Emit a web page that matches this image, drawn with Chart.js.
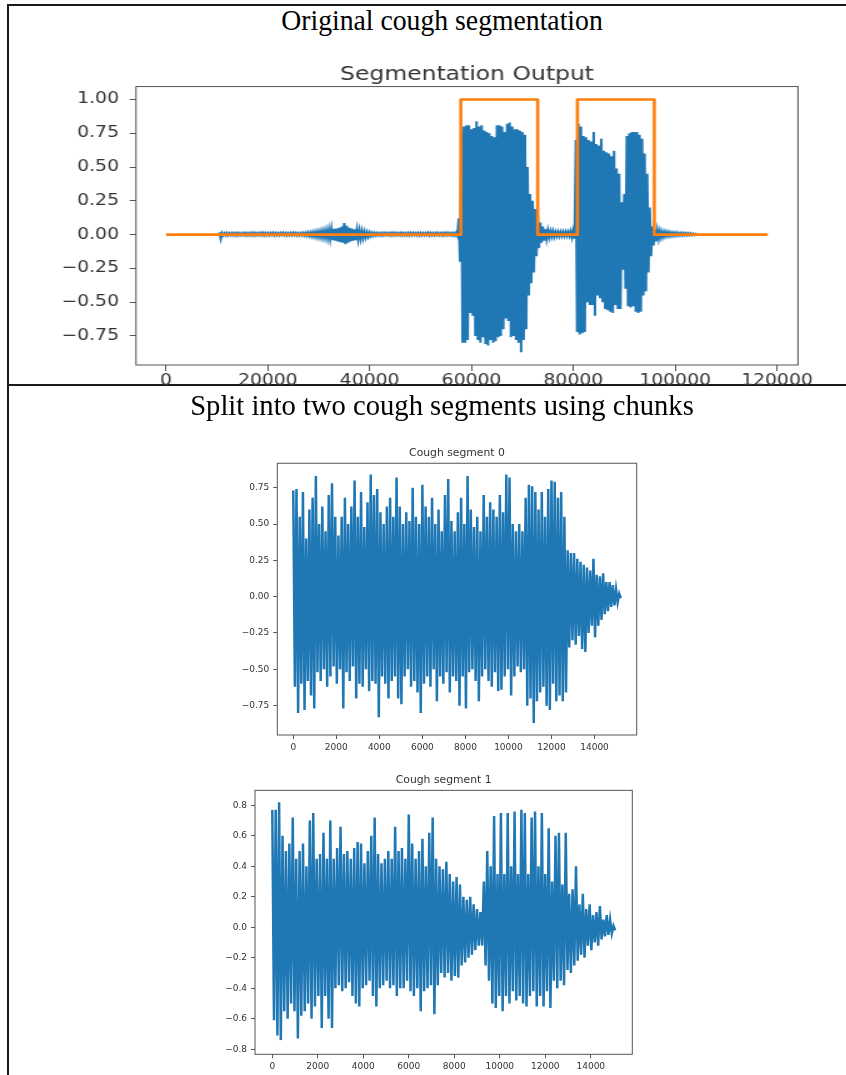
<!DOCTYPE html>
<html>
<head>
<meta charset="utf-8">
<script src="https://cdn.jsdelivr.net/npm/chart.js@4.4.0/dist/chart.umd.min.js"></script>
<style>
html,body{margin:0;padding:0;background:#fff;width:846px;height:1075px;overflow:hidden;}
#frame{position:absolute;left:7px;top:4px;width:860px;height:1100px;border-left:2px solid #1a1a1a;border-top:2px solid #1a1a1a;}
#divider{position:absolute;left:7px;top:384px;width:845px;height:2px;background:#1a1a1a;}
.ptitle{position:absolute;left:42px;width:800px;text-align:center;font-family:'Liberation Serif',serif;font-size:29px;line-height:29px;color:#000;white-space:nowrap;z-index:5;transform-origin:50% 50%;}
.wrap{position:absolute;}
#topWrap{left:0;top:52px;transform:scaleX(1.25);transform-origin:0 0;}
#seg0Wrap{left:220px;top:436px;}
#seg1Wrap{left:200px;top:762px;}
</style>
</head>
<body>
<div id="frame"></div>
<div id="divider"></div>
<div class="ptitle" style="top:6px;transform:scaleX(0.955)">Original cough segmentation</div>
<div class="ptitle" style="top:391px;transform:scaleX(0.986)">Split into two cough segments using chunks</div>
<div class="wrap" id="topWrap"><canvas id="topChart" width="672" height="345"></canvas></div>
<div class="wrap" id="seg0Wrap"><canvas id="seg0Chart" width="440" height="319"></canvas></div>
<div class="wrap" id="seg1Wrap"><canvas id="seg1Chart" width="450" height="313"></canvas></div>
<script>
// ---------------- DATA ----------------
// Top chart: audio envelope (upper / lower extremes), sampled every 500 samples
const topStep = 500;
const quietStart = 10500;
const quietUpper = [
 0.017,0.012,0.011,0.012,0.010,0.012,0.011,0.012,0.010,0.011,
 0.012,0.011,0.012,0.013,0.012,0.011,0.012,0.013,0.012,0.011,
 0.012,0.013,0.012,0.011,0.012,0.013,0.012,0.011,0.012,0.013,
 0.012,0.011,0.012,0.012,
 0.014,0.015,0.016,0.018,0.020,0.022,0.024,0.027,0.030,0.035,
 0.040,0.042,0.045,0.050,0.060,0.085,0.065,0.050,0.045,0.040,
 0.035,0.030,0.025,0.020,0.017,0.015,0.013,0.012,
 0.012,0.011,0.012,0.012,0.011,0.012,0.013,0.012,0.011,0.012,
 0.012,0.011,0.012,0.013,0.012,0.011,0.012,0.012,0.011,0.012,
 0.013,0.012,0.011,0.012,0.012,0.011,0.012,0.013,0.012,0.011,
 0.012,0.014
];
const quietLower = [
 -0.030,-0.005,-0.006,-0.005,-0.004,-0.005,-0.006,-0.005,-0.005,-0.004,
 -0.006,-0.005,-0.005,-0.006,-0.005,-0.004,-0.005,-0.006,-0.005,-0.005,
 -0.004,-0.006,-0.005,-0.005,-0.004,-0.005,-0.006,-0.005,-0.005,-0.004,
 -0.006,-0.005,-0.006,-0.007,
 -0.008,-0.010,-0.012,-0.014,-0.016,-0.018,-0.020,-0.022,-0.025,-0.030,
 -0.040,-0.045,-0.050,-0.055,-0.060,-0.070,-0.060,-0.050,-0.045,-0.040,
 -0.035,-0.030,-0.025,-0.020,-0.015,-0.010,-0.008,-0.006,
 -0.005,-0.006,-0.005,-0.004,-0.005,-0.006,-0.005,-0.005,-0.004,-0.006,
 -0.005,-0.005,-0.006,-0.005,-0.004,-0.005,-0.006,-0.005,-0.005,-0.004,
 -0.006,-0.005,-0.005,-0.004,-0.005,-0.006,-0.005,-0.005,-0.004,-0.006,
 -0.006,-0.008
];
const coughStart = 57500;
const coughUpper = [
 0.12,0.76,0.80,0.81,0.81,0.78,0.79,0.84,0.80,0.81,
 0.77,0.76,0.75,0.73,0.72,0.81,0.81,0.80,0.76,0.82,
 0.83,0.80,0.78,0.78,0.77,0.76,0.74,0.50,0.30,0.25,
 0.19,0.14,0.09,0.06,0.04,0.03,0.025,0.025,0.02,0.02,
 0.02,0.02,0.02,0.02,0.025,0.03,0.70,
 0.82,0.80,0.73,0.72,0.70,0.69,0.76,0.67,0.66,0.71,
 0.62,0.61,0.60,0.58,0.62,0.49,0.45,0.24,0.30,0.73,
 0.75,0.76,0.76,0.76,0.74,0.71,0.60,0.45,0.20,0.06,
 0.04,0.03,0.025,0.02,0.02,
 0.018,0.016,0.015,0.014,0.013,0.012,0.012,0.011,0.010,0.010,0.008,0.006
];
const coughLower = [
 -0.20,-0.80,-0.80,-0.78,-0.58,-0.60,-0.75,-0.78,-0.80,-0.76,
 -0.81,-0.82,-0.78,-0.80,-0.79,-0.76,-0.75,-0.70,-0.62,-0.64,
 -0.76,-0.75,-0.78,-0.80,-0.87,-0.78,-0.70,-0.45,-0.36,-0.28,
 -0.16,-0.10,-0.06,-0.045,-0.03,-0.02,-0.015,-0.015,-0.012,-0.012,
 -0.01,-0.01,-0.01,-0.01,-0.02,-0.03,-0.72,
 -0.74,-0.73,-0.72,-0.50,-0.52,-0.52,-0.60,-0.45,-0.47,-0.50,
 -0.55,-0.56,-0.57,-0.58,-0.52,-0.55,-0.55,-0.26,-0.40,-0.53,
 -0.54,-0.53,-0.57,-0.58,-0.57,-0.45,-0.42,-0.28,-0.16,-0.08,
 -0.05,-0.03,-0.02,-0.015,-0.01,
 -0.010,-0.008,-0.008,-0.007,-0.006,-0.006,-0.005,-0.005,-0.004,-0.004,-0.003,-0.003
];
// Segmentation mask (orange step line): edges and level after each edge
const maskX = [0, 57900, 73000, 80800, 95900, 118200];
const maskY = [0, 1, 0, 1, 0, 0];

const topXTicks = [0, 20000, 40000, 60000, 80000, 100000, 120000];
const topXLabels = ['0','20000','40000','60000','80000','100000','120000'];
const topYTicks = [-0.75, -0.5, -0.25, 0, 0.25, 0.5, 0.75, 1.0];
const topYLabels = ['\u22120.75','\u22120.50','\u22120.25','0.00','0.25','0.50','0.75','1.00'];

// Cough segment 0 envelope, every 150 samples
const segStep = 150;
const seg0Upper = [
 0.73,0.74,0.55,0.72,0.40,0.60,0.68,0.83,0.50,0.62,
 0.45,0.70,0.78,0.55,0.42,0.55,0.68,0.50,0.62,0.80,
 0.55,0.72,0.48,0.65,0.84,0.70,0.74,0.58,0.50,0.62,
 0.68,0.55,0.82,0.62,0.50,0.58,0.52,0.75,0.55,0.50,
 0.77,0.62,0.55,0.68,0.50,0.60,0.45,0.70,0.81,0.52,
 0.45,0.58,0.68,0.50,0.83,0.60,0.48,0.55,0.45,0.70,
 0.55,0.65,0.60,0.55,0.70,0.58,0.84,0.82,0.50,0.45,
 0.50,0.45,0.68,0.77,0.76,0.72,0.60,0.72,0.55,0.74,
 0.80,0.79,0.68,0.72,0.55,0.32,0.30,0.30,0.26,0.24,
 0.22,0.20,0.18,0.26,0.15,0.14,0.16,0.10,0.10,0.08,
 0.05,0.02
];
const seg0Lower = [
 -0.62,-0.80,-0.60,-0.78,-0.58,-0.68,-0.77,-0.52,-0.58,-0.50,
 -0.62,-0.55,-0.48,-0.60,-0.50,-0.77,-0.52,-0.58,-0.48,-0.70,
 -0.60,-0.62,-0.50,-0.65,-0.58,-0.60,-0.83,-0.55,-0.60,-0.70,
 -0.58,-0.55,-0.70,-0.74,-0.55,-0.50,-0.62,-0.58,-0.66,-0.80,
 -0.60,-0.55,-0.62,-0.50,-0.72,-0.55,-0.60,-0.52,-0.66,-0.55,
 -0.58,-0.75,-0.55,-0.77,-0.52,-0.50,-0.58,-0.72,-0.55,-0.50,
 -0.58,-0.62,-0.52,-0.65,-0.64,-0.55,-0.50,-0.68,-0.55,-0.48,
 -0.52,-0.50,-0.75,-0.70,-0.87,-0.72,-0.66,-0.62,-0.75,-0.78,
 -0.60,-0.72,-0.68,-0.72,-0.66,-0.35,-0.30,-0.33,-0.27,-0.36,
 -0.38,-0.25,-0.20,-0.28,-0.20,-0.16,-0.12,-0.10,-0.07,-0.06,
 -0.04,-0.01
];
const seg0XTicks = [0,2000,4000,6000,8000,10000,12000,14000];
const seg0XLabels = ['0','2000','4000','6000','8000','10000','12000','14000'];
const seg0YTicks = [-0.75,-0.5,-0.25,0,0.25,0.5,0.75];
const seg0YLabels = ['\u22120.75','\u22120.50','\u22120.25','0.00','0.25','0.50','0.75'];

// Cough segment 1 envelope, every 150 samples
const seg1Upper = [
 0.77,0.77,0.82,0.60,0.50,0.55,0.72,0.45,0.50,0.55,
 0.40,0.70,0.75,0.45,0.48,0.62,0.45,0.70,0.45,0.52,
 0.66,0.48,0.50,0.45,0.52,0.56,0.55,0.42,0.50,0.60,
 0.72,0.48,0.42,0.45,0.50,0.45,0.66,0.50,0.52,0.45,
 0.74,0.55,0.45,0.50,0.58,0.40,0.62,0.72,0.45,0.40,
 0.38,0.43,0.35,0.30,0.33,0.28,0.20,0.18,0.20,0.15,
 0.12,0.10,0.30,0.50,0.40,0.73,0.35,0.75,0.35,0.75,
 0.40,0.76,0.35,0.77,0.75,0.35,0.72,0.76,0.40,0.75,
 0.35,0.65,0.30,0.60,0.62,0.28,0.62,0.22,0.25,0.40,
 0.15,0.22,0.12,0.15,0.08,0.10,0.14,0.05,0.08,0.05,
 0.01
];
const seg1Lower = [
 -0.61,-0.71,-0.74,-0.55,-0.60,-0.50,-0.55,-0.73,-0.58,-0.55,
 -0.50,-0.60,-0.52,-0.45,-0.66,-0.45,-0.60,-0.66,-0.40,-0.38,
 -0.42,-0.40,-0.36,-0.45,-0.50,-0.52,-0.40,-0.38,-0.35,-0.45,
 -0.52,-0.40,-0.38,-0.35,-0.40,-0.38,-0.45,-0.40,-0.40,-0.35,
 -0.42,-0.45,-0.40,-0.55,-0.42,-0.40,-0.38,-0.57,-0.38,-0.30,
 -0.33,-0.30,-0.35,-0.32,-0.33,-0.25,-0.23,-0.20,-0.18,-0.15,
 -0.12,-0.12,-0.25,-0.35,-0.50,-0.53,-0.45,-0.55,-0.45,-0.50,
 -0.42,-0.48,-0.45,-0.50,-0.52,-0.45,-0.42,-0.52,-0.45,-0.52,
 -0.42,-0.53,-0.35,-0.40,-0.35,-0.38,-0.28,-0.30,-0.25,-0.22,
 -0.18,-0.20,-0.12,-0.15,-0.10,-0.12,-0.08,-0.06,-0.05,-0.04,
 -0.02
];
const seg1XTicks = [0,2000,4000,6000,8000,10000,12000,14000];
const seg1XLabels = ['0','2000','4000','6000','8000','10000','12000','14000'];
const seg1YTicks = [-0.8,-0.6,-0.4,-0.2,0,0.2,0.4,0.6,0.8];
const seg1YLabels = ['\u22120.8','\u22120.6','\u22120.4','\u22120.2','0.0','0.2','0.4','0.6','0.8'];

// ---------------- HELPERS ----------------
const BLUE = '#1f77b4', ORANGE = '#ff7f0e';
const TEXT = '#333333', SPINE = '#555555';

function envelope(start, step, upper, lower) {
  const pts = [];
  upper.forEach((u, i) => {
    pts.push({x: start + i * step, y: u});
    pts.push({x: start + i * step + step / 2, y: lower[i]});
  });
  return pts;
}

const framePlugin = {
  id: 'frame',
  afterDatasetsDraw(chart, args, opts) {
    const {ctx, chartArea: a} = chart;
    ctx.save();
    ctx.strokeStyle = opts.color || SPINE;
    ctx.lineWidth = opts.width || 1;
    ctx.strokeRect(a.left, a.top, a.right - a.left, a.bottom - a.top);
    ctx.restore();
  }
};

function axis(cfg) {
  return {
    type: 'linear',
    min: cfg.min, max: cfg.max,
    afterBuildTicks: (s) => { s.ticks = cfg.ticks.map(v => ({value: v})); },
    afterFit: (s) => { if (cfg.width !== undefined) s.width = cfg.width; if (cfg.height !== undefined) s.height = cfg.height; },
    grid: {display: true, drawOnChartArea: false, drawTicks: true, tickLength: cfg.tickLength, tickColor: SPINE, tickWidth: 1, lineWidth: 1},
    border: {display: false},
    ticks: {
      autoSkip: false, maxRotation: 0, minRotation: 0,
      padding: cfg.padding, color: TEXT,
      font: {family: 'DejaVu Sans', size: cfg.fontSize},
      callback: (v, i) => cfg.labels[i]
    }
  };
}

function makeChart(id, c) {
  return new Chart(document.getElementById(id), {
    type: 'line',
    data: {datasets: c.datasets},
    options: {
      responsive: false, animation: false, devicePixelRatio: 1,
      layout: {padding: c.padding},
      plugins: {
        legend: {display: false}, tooltip: {enabled: false},
        title: {display: true, text: c.title, fullSize: false, color: TEXT,
                font: {family: 'DejaVu Sans', size: c.titleSize, weight: 'normal', lineHeight: 1.2},
                padding: c.titlePadding},
        frame: {color: SPINE, width: 1}
      },
      elements: {point: {radius: 0}, line: {tension: 0}},
      scales: {x: axis(c.x), y: axis(c.y)}
    },
    plugins: [framePlugin]
  });
}

// ---------------- CHARTS ----------------
makeChart('topChart', {
  title: 'Segmentation Output', titleSize: 18.8, titlePadding: {top: 8.5, bottom: 0},
  padding: {left: 0, right: 33.6, top: 3.5, bottom: 0},
  x: {min: -5892, max: 124128, ticks: topXTicks, labels: topXLabels, height: 32, tickLength: 6, padding: 1, fontSize: 15},
  y: {min: -0.965, max: 1.096, ticks: topYTicks, labels: topYLabels, width: 108.8, tickLength: 5, padding: 8.6, fontSize: 15},
  datasets: [
    {data: maskX.map((x, i) => ({x, y: maskY[i]})), borderColor: ORANGE, borderWidth: 2.6, stepped: 'before', borderJoinStyle: 'round', order: 0},
    {data: envelope(quietStart, topStep, quietUpper, quietLower).concat(envelope(coughStart, topStep, coughUpper, coughLower)),
     borderColor: BLUE, borderWidth: 2, order: 1}
  ]
});

makeChart('seg0Chart', {
  title: 'Cough segment 0', titleSize: 10.8, titlePadding: {top: 4, bottom: 4},
  padding: {left: 0, right: 23.3, top: 6.3, bottom: 0},
  x: {min: -742, max: 15960, ticks: seg0XTicks, labels: seg0XLabels, height: 20, tickLength: 4, padding: 3, fontSize: 9},
  y: {min: -0.952, max: 0.918, ticks: seg0YTicks, labels: seg0YLabels, width: 57.3, tickLength: 4, padding: 4, fontSize: 9},
  datasets: [
    {data: envelope(0, segStep, seg0Upper, seg0Lower), borderColor: BLUE, borderWidth: 2.5, borderJoinStyle: 'miter'}
  ]
});

makeChart('seg1Chart', {
  title: 'Cough segment 1', titleSize: 10.8, titlePadding: {top: 4, bottom: 4},
  padding: {left: 0, right: 17.7, top: 7.4, bottom: 0},
  x: {min: -760, max: 15825, ticks: seg1XTicks, labels: seg1XLabels, height: 20.7, tickLength: 4, padding: 3, fontSize: 9},
  y: {min: -0.833, max: 0.898, ticks: seg1YTicks, labels: seg1YLabels, width: 55, tickLength: 4, padding: 4, fontSize: 9},
  datasets: [
    {data: envelope(0, segStep, seg1Upper, seg1Lower), borderColor: BLUE, borderWidth: 2.5, borderJoinStyle: 'miter'}
  ]
});
</script>
</body>
</html>
